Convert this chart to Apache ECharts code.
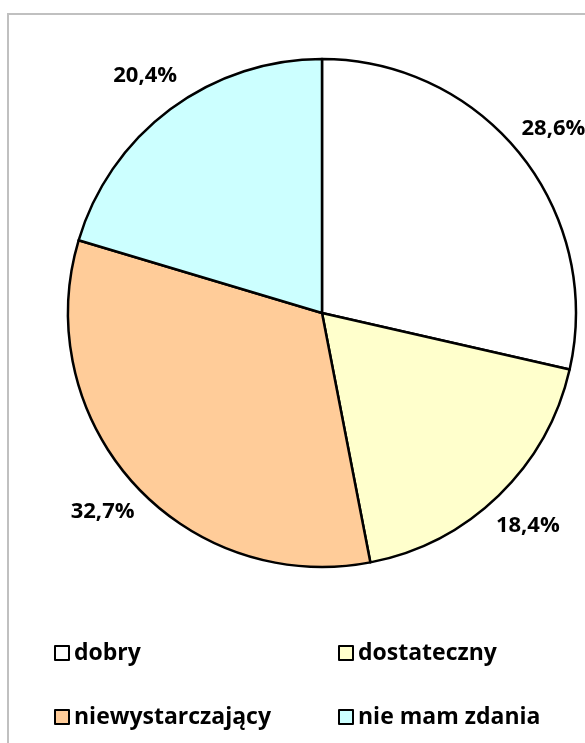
<!DOCTYPE html>
<html>
<head>
<meta charset="utf-8" />
<title>Ocena</title>
<style>
  html, body { margin: 0; padding: 0; background: #fff; }
  #chart { width: 585px; height: 743px; }
</style>
</head>
<body>
<div id="chart"></div>
<script src="https://cdn.jsdelivr.net/npm/echarts@6/dist/echarts.min.js"></script>
<script>
// dane
var categories = ['dobry', 'dostateczny', 'niewystarczający', 'nie mam zdania'];
var shares = [28.6, 18.4, 32.7, 20.4];
var colors = ['#FFFFFF', '#FFFFCC', '#FFCC99', '#CCFFFF'];

var font = '"Open Sans", sans-serif';

var pieData = categories.map(function (name, i) {
    return { name: name, value: shares[i], itemStyle: { color: colors[i] } };
});
var labelData = categories.map(function (name, i) {
    return { name: name, value: shares[i] };
});

// jedna pozycja legendy = jeden komponent, zeby trzymac uklad 2x2
var legendLeft = [54, 338, 54, 338];
var legendTop = [640, 640, 704, 704];

var legends = categories.map(function (name, i) {
    return {
        left: legendLeft[i],
        top: legendTop[i],
        padding: 0,
        data: [name],
        icon: 'rect',
        itemWidth: 14,
        itemHeight: 14,
        selectedMode: false,
        itemStyle: { borderColor: '#000', borderWidth: 2 },
        textStyle: { fontFamily: font, fontWeight: 'bold', fontSize: 23, color: '#000', lineHeight: 26 }
    };
});

var option = {
    animation: false,
    backgroundColor: '#fff',
    graphic: [{
        type: 'rect',
        shape: { x: 8, y: 14, width: 640, height: 800 },
        style: { fill: 'none', stroke: '#c0c0c0', lineWidth: 2 },
        silent: true
    }],
    legend: legends,
    series: [
        {
            name: 'ocena',
            type: 'pie',
            center: [322, 313],
            radius: 254,
            startAngle: 90,
            clockwise: true,
            silent: true,
            label: { show: false },
            labelLine: { show: false },
            itemStyle: { borderColor: '#000', borderWidth: 2.5 },
            data: pieData
        },
        {
            // niewidoczny pierscien tylko do rozmieszczenia etykiet
            name: 'etykiety',
            type: 'pie',
            center: [322, 313],
            radius: [254, 332],
            startAngle: 90,
            clockwise: true,
            silent: true,
            itemStyle: { color: 'rgba(0,0,0,0)' },
            label: {
                show: true,
                position: 'inside',
                fontFamily: font,
                fontWeight: 'bold',
                fontSize: 22,
                color: '#000',
                formatter: function (p) {
                    return p.value.toFixed(1).replace('.', ',') + '%';
                }
            },
            labelLine: { show: false },
            data: labelData
        }
    ]
};

var myChart = echarts.init(document.getElementById('chart'));
myChart.setOption(option);
</script>
</body>
</html>
